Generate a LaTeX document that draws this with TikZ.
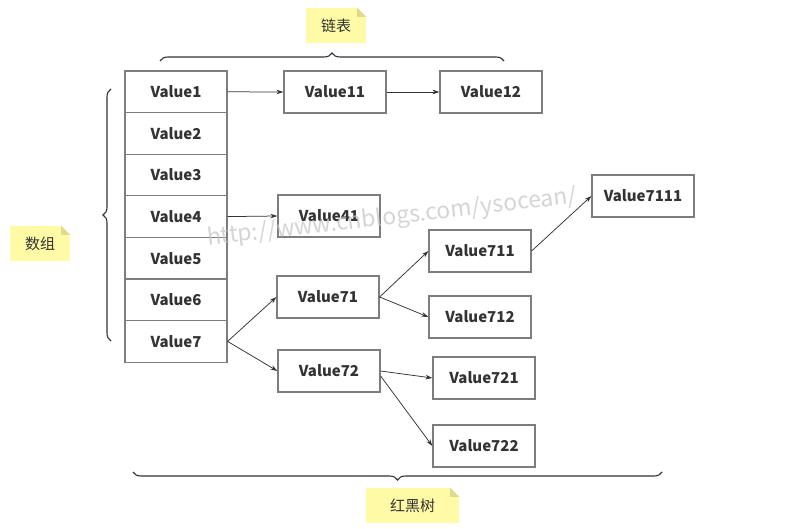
\documentclass[tikz,border=0pt]{standalone}
\usepackage{fontspec}
\setmainfont{Noto Sans CJK SC}
\usetikzlibrary{arrows.meta,decorations.pathreplacing}
\usepackage{xcolor}
\definecolor{boxgray}{RGB}{125,125,125}
\definecolor{inkdark}{RGB}{51,51,51}
\definecolor{notefill}{RGB}{255,250,165}
\definecolor{notefold}{RGB}{224,218,140}
\definecolor{markgray}{RGB}{195,195,195}

\begin{document}
\begin{tikzpicture}[
        x=1pt, y=-1pt,
        cell/.style={draw=boxgray, line width=1.2pt, minimum width=102pt, minimum height=41.6pt, inner sep=0pt, font=\fontsize{15}{17}\selectfont\bfseries, text=inkdark},
        valuebox/.style={cell, minimum height=42pt},
        note/.style={fill=notefill, minimum width=60pt, minimum height=35pt, inner sep=0pt, font=\fontsize{15}{17}\selectfont, text=inkdark},
        linkline/.style={-{Stealth[length=7pt,width=4.5pt]}, draw=inkdark, line width=0.75pt},
        bracket/.style={draw=inkdark, line width=1.1pt, decorate, decoration={brace, amplitude=8pt}}
      ]
      \useasboundingbox[fill=white] (0,0) rectangle (786,529);

      % Array (7 cells)
      \node[cell] (A1) at (176, 91.8) {Value1};
      \node[cell] (A2) at (176,133.4) {Value2};
      \node[cell] (A3) at (176,175.0) {Value3};
      \node[cell] (A4) at (176,216.6) {Value4};
      \node[cell] (A5) at (176,258.2) {Value5};
      \node[cell] (A6) at (176,299.8) {Value6};
      \node[cell] (A7) at (176,341.4) {Value7};

      % Linked list
      \node[valuebox] (L11) at (335, 92) {Value11};
      \node[valuebox] (L12) at (491, 92) {Value12};
      \node[valuebox] (L41) at (329,216) {Value41};

      % Red-black tree
      \node[valuebox] (T71)   at (328,297) {Value71};
      \node[valuebox] (T72)   at (329,371) {Value72};
      \node[valuebox] (T711)  at (480,251) {Value711};
      \node[valuebox] (T712)  at (480,317) {Value712};
      \node[valuebox] (T7111) at (643,196) {Value7111};
      \node[valuebox] (T721)  at (484,378) {Value721};
      \node[valuebox] (T722)  at (484,446) {Value722};

      % Connections
      \draw[linkline] (A1.east) -- (L11.west);
      \draw[linkline] (L11.east) -- (L12.west);
      \draw[linkline] (A4.east) -- (L41.west);
      \draw[linkline] (A7.east) -- (T71.west);
      \draw[linkline] (A7.east) -- (T72.west);
      \draw[linkline] (T71.east) -- (T711.west);
      \draw[linkline] (T71.east) -- (T712.west);
      \draw[linkline] (T711.east) -- (T7111.west);
      \draw[linkline] (T72.east) -- (T721.west);
      \draw[linkline] ([yshift=-5pt]T72.east) -- (T722.west);

      % Braces
      \coordinate (TopL) at (160,61);
      \coordinate (TopR) at (504,61);
      \coordinate (LeftT) at (111,89);
      \coordinate (LeftB) at (111,341);
      \coordinate (BotL) at (133,472);
      \coordinate (BotR) at (662,472);
      \draw[bracket] (TopL) -- (TopR);
      \draw[bracket] (LeftB) -- (LeftT);
      \draw[bracket] (BotR) -- (BotL);

      % Notes
      \node[note] (ListNote) at (336,25.5) {链表};
      \node[note] (ArrayNote) at (40,243.5) {数组};
      \node[note, minimum width=93pt] (TreeNote) at (412.5,505.5) {红黑树};
      \fill[white] ([xshift=-9pt]ListNote.north east) -- (ListNote.north east) -- ([yshift=-9pt]ListNote.north east) -- cycle;
      \fill[notefold] ([xshift=-9pt]ListNote.north east) -- ([xshift=-9pt,yshift=-9pt]ListNote.north east) -- ([yshift=-9pt]ListNote.north east) -- cycle;
      \fill[white] ([xshift=-9pt]ArrayNote.north east) -- (ArrayNote.north east) -- ([yshift=-9pt]ArrayNote.north east) -- cycle;
      \fill[notefold] ([xshift=-9pt]ArrayNote.north east) -- ([xshift=-9pt,yshift=-9pt]ArrayNote.north east) -- ([yshift=-9pt]ArrayNote.north east) -- cycle;
      \fill[white] ([xshift=-9pt]TreeNote.north east) -- (TreeNote.north east) -- ([yshift=-9pt]TreeNote.north east) -- cycle;
      \fill[notefold] ([xshift=-9pt]TreeNote.north east) -- ([xshift=-9pt,yshift=-9pt]TreeNote.north east) -- ([yshift=-9pt]TreeNote.north east) -- cycle;

      % Watermark
      \node[rotate=6.5, text=markgray, opacity=0.7, font=\fontsize{23}{25}\selectfont] (Mark) at (392,218) {http://www.cnblogs.com/ysocean/};

    \end{tikzpicture}
\end{document}
